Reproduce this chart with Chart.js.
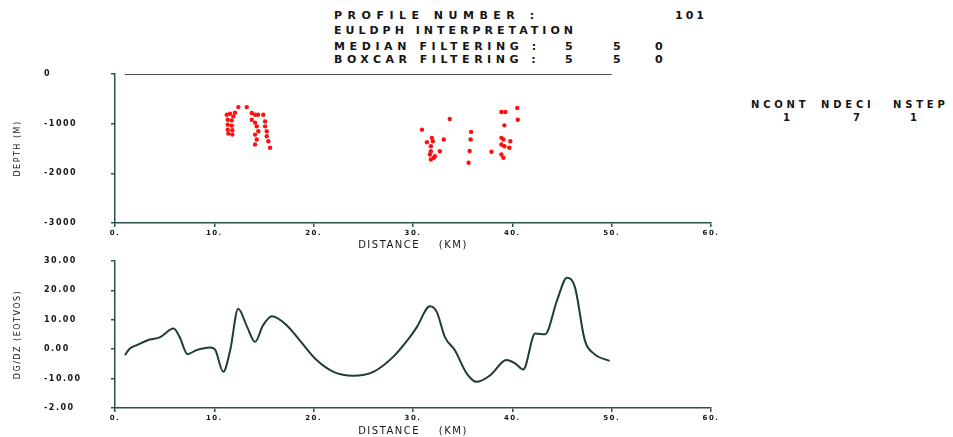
<!DOCTYPE html>
<html><head><meta charset="utf-8">
<script src="https://cdn.jsdelivr.net/npm/chart.js@4.4.1/dist/chart.umd.min.js"></script>
<style>
html,body{margin:0;padding:0;background:#fff;width:953px;height:437px;overflow:hidden;}
.t{position:absolute;font-family:"DejaVu Sans",sans-serif;font-weight:bold;font-size:11px;line-height:11px;color:#151515;white-space:pre;letter-spacing:4.5px;}
.r{font-size:10px;line-height:10px;letter-spacing:3.8px;}
canvas{position:absolute;left:0;}
</style></head><body>
<div class="t" style="left:334px;top:10px;letter-spacing:5.5px">PROFILE NUMBER :</div>
<div class="t" style="left:675px;top:10px;letter-spacing:3px">101</div>
<div class="t" style="left:334px;top:25px;letter-spacing:4px">EULDPH INTERPRETATION</div>
<div class="t" style="left:334px;top:41px;letter-spacing:4.6px">MEDIAN FILTERING :</div>
<div class="t" style="left:565px;top:41px">5</div>
<div class="t" style="left:613px;top:41px">5</div>
<div class="t" style="left:655px;top:41px">0</div>
<div class="t" style="left:334px;top:54px">BOXCAR FILTERING :</div>
<div class="t" style="left:565px;top:54px">5</div>
<div class="t" style="left:613px;top:54px">5</div>
<div class="t" style="left:655px;top:54px">0</div>
<div class="t r" style="left:751px;top:100px">NCONT</div>
<div class="t r" style="left:821px;top:100px">NDECI</div>
<div class="t r" style="left:893px;top:100px">NSTEP</div>
<div class="t r" style="left:783px;top:113px">1</div>
<div class="t r" style="left:853px;top:113px">7</div>
<div class="t r" style="left:910px;top:113px">1</div>
<canvas id="top" width="953" height="251" style="top:0"></canvas>
<canvas id="bot" width="953" height="186" style="top:251px"></canvas>
<script>
// ---- data ----
const distTickLabels = ["0.","10.","20.","30.","40.","50.","60."];
const depthTickLabels = ["-3000","-2000","-1000","0"];
const gradTickLabels = ["-2.00","-10.00","0.00","10.00","20.00","30.00"];
const profileKm = [1, 50];
const profileDepth = [0, 0];
const solutionKm = [11.25,11.58,11.91,11.35,11.75,11.35,11.75,11.35,11.81,11.41,11.81,12.08,
  12.42,13.26,13.77,14.10,14.40,13.77,14.10,14.27,14.43,14.10,14.27,14.10,15.11,15.11,15.28,15.28,15.44,15.61,14.93,
  33.7,30.9,31.4,31.9,32.0,33.1,31.8,31.8,32.7,31.7,32.1,31.8,32.2,
  35.85,35.8,35.7,35.6,38.9,39.3,40.5,40.55,39.2,38.9,39.1,39.8,38.9,39.2,39.7,37.9,38.9,39.1];
const solutionDepth = [-820,-800,-854,-920,-934,-1020,-1040,-1120,-1134,-1200,-1220,-780,
  -666,-666,-786,-820,-820,-920,-980,-1054,-1154,-1220,-1320,-1420,-954,-1054,-1154,-1254,-1354,-1486,-820,
  -906,-1120,-1374,-1286,-1354,-1320,-1454,-1554,-1554,-1620,-1686,-1720,-1654,
  -1166,-1320,-1550,-1786,-766,-766,-686,-920,-1034,-1286,-1320,-1354,-1420,-1454,-1486,-1566,-1620,-1686];
const curveKm = [1.0,1.5,2.2,3.5,4.5,5.9,6.5,7.3,8.2,9.6,10.1,10.9,11.6,12.4,13.3,14.1,14.9,15.8,17.3,18.6,20.3,22.0,24.0,26.0,28.0,29.7,30.4,31.7,32.4,33.2,34.2,35.4,36.4,37.8,39.4,40.3,41.1,42.3,43.3,44.5,45.5,46.3,47.3,48.2,49.8];
const curveVal = [-2.0,0.2,1.4,3.3,4.0,7.0,4.2,-1.7,-0.3,0.6,-0.3,-7.7,-0.3,13.8,7.6,2.5,8.1,11.2,8.1,3.0,-3.7,-7.7,-9.0,-7.7,-2.6,4.2,7.6,14.6,12.6,4.2,-0.3,-8.2,-11.1,-8.8,-3.7,-4.9,-6.9,5.3,5.1,16.6,24.3,21.1,3.0,-1.5,-4.0];

// ---- helpers ----
const axisColor = '#2b514d';
const lineColor = '#1f3c37';
Chart.defaults.font.family = '"DejaVu Sans", sans-serif';
Chart.defaults.color = '#151515';
const spacing = {id:'ls',
  beforeUpdate(c){ c.ctx.letterSpacing='1.5px'; },
  beforeDraw(c){ c.ctx.letterSpacing='1.5px'; }};
const zip = (a,b)=>a.map((x,i)=>({x, y:b[i]}));

function xAxis(h){
  return {type:'linear', min:0, max:60,
    ticks:{stepSize:10, autoSkip:false, maxRotation:0, padding:2,
      font:{size:7, weight:'bold'}, callback:(v,i)=>distTickLabels[i]},
    grid:{drawOnChartArea:false, tickLength:4, color:axisColor, lineWidth:1.5},
    border:{color:axisColor, width:1.5},
    title:{display:true, text:'DISTANCE    (KM)', font:{size:10}, padding:{top:3,bottom:0}},
    afterFit:s=>{s.height=h;}};
}
function yAxis(title, min, max, labels){
  return {type:'linear', min, max,
    ticks:{stepSize:(max-min)/(labels.length-1), autoSkip:false, crossAlign:'far', padding:4,
      font:{size:8, weight:'bold'}, callback:(v,i)=>labels[i]},
    grid:{drawOnChartArea:false, tickLength:4, color:axisColor, lineWidth:1.5},
    border:{color:axisColor, width:1.5},
    title:{display:true, text:title, font:{size:8}, padding:{top:-31,bottom:0}},
    afterFit:s=>{s.width=71;}};
}

new Chart(document.getElementById('top'), {
  type:'scatter',
  data:{datasets:[
    {data:zip(profileKm, profileDepth), showLine:true, borderColor:'#111', borderWidth:1.5, pointRadius:0},
    {data:zip(solutionKm, solutionDepth), pointRadius:2.2, pointBackgroundColor:'#ff1010', pointBorderWidth:0}
  ]},
  options:{responsive:false, animation:false, events:[],
    layout:{padding:{left:44, right:242, top:74, bottom:0}},
    plugins:{legend:{display:false}, tooltip:{enabled:false}},
    scales:{x:xAxis(28), y:yAxis('DEPTH (M)', -3000, 0, depthTickLabels)}},
  plugins:[spacing]
});

new Chart(document.getElementById('bot'), {
  type:'scatter',
  data:{datasets:[
    {data:zip(curveKm, curveVal), showLine:true, borderColor:lineColor, borderWidth:2, pointRadius:0, cubicInterpolationMode:'monotone'}
  ]},
  options:{responsive:false, animation:false, events:[],
    layout:{padding:{left:44, right:242, top:10, bottom:0}},
    plugins:{legend:{display:false}, tooltip:{enabled:false}},
    scales:{x:xAxis(29), y:yAxis('DG/DZ (EOTVOS)', -20, 30, gradTickLabels)}},
  plugins:[spacing]
});
</script>
</body></html>
